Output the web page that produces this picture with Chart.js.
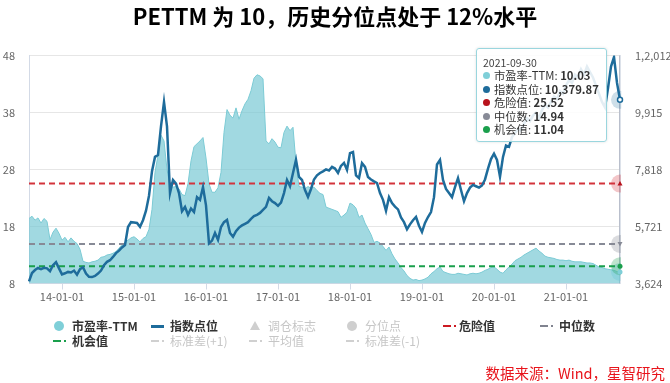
<!DOCTYPE html>
<html><head><meta charset="utf-8">
<script src="https://cdn.jsdelivr.net/npm/chart.js@4.4.1/dist/chart.umd.min.js"></script>
<style>
html,body{margin:0;padding:0;background:#fff;}
#wrap{position:relative;width:670px;height:383px;overflow:hidden;font-family:'Noto Sans CJK SC','Open Sans',sans-serif;}
#c{position:absolute;left:0;top:0;}
.lg{position:absolute;height:16px;line-height:16px;font-size:12px;white-space:nowrap;}
.lg .ic{position:absolute;top:50%;}
.lg .tx{position:absolute;top:0;}
#tt{position:absolute;background:rgba(255,255,255,0.88);border:1px solid #9ad6de;border-radius:3px;box-shadow:0 0 3px rgba(0,0,0,0.12);padding:8px 7px 4px 6px;font-size:11.3px;color:#333;pointer-events:none;white-space:nowrap;}
#tt .t{font-size:10.5px;line-height:12px;color:#444;margin-bottom:0px;}
#tt .r{line-height:13.5px;}
#tt .d{display:inline-block;width:7px;height:7px;border-radius:50%;margin-right:4px;vertical-align:1px;}
#src{position:absolute;right:5px;top:363px;font-size:14.5px;color:#e8141b;line-height:20px;}
</style></head>
<body>
<div id="wrap"><canvas id="c" width="670" height="383"></canvas><div id="src">数据来源：Wind，星智研究</div></div>
<script>
// ---------- data ----------
const titleText = 'PETTM 为 10，历史分位点处于 12%水平';
const peValues = [
19.4,19.8,19.1,19.5,18.6,19.4,18.9,15.7,17.0,17.7,16.8,15.6,16.1,15.3,16.0,15.4,15.0,14.0,11.9,11.7,
11.6,11.8,11.9,12.1,12.6,12.7,13.0,13.1,13.3,13.6,14.2,14.8,15.2,15.6,16.0,16.2,15.8,15.3,15.9,16.2,
17.5,21.0,27.5,30.5,34.0,33.0,28.0,25.0,24.9,25.0,24.6,23.6,23.4,25.5,29.5,32.0,32.5,33.0,33.6,30.0,
25.5,24.0,24.0,24.8,27.5,34.5,38.5,37.5,37.0,38.8,36.8,38.3,39.5,40.3,41.8,44.0,44.6,44.4,43.9,33.0,
32.5,33.4,32.8,31.9,31.8,34.5,35.6,34.8,35.4,29.0,25.0,24.9,24.6,25.0,24.7,24.9,24.3,23.8,23.6,21.4,
21.2,21.0,20.8,20.6,19.6,20.0,20.5,22.1,21.8,21.2,19.6,20.0,18.6,17.6,16.6,15.2,15.4,15.1,14.5,13.8,
14.4,13.2,12.3,11.6,10.8,10.2,9.4,8.9,8.6,8.7,8.5,8.6,8.8,9.1,9.7,10.1,10.6,10.9,10.1,9.9,
9.7,9.6,9.6,9.8,9.7,9.6,9.5,9.7,9.8,9.7,9.8,10.0,10.3,10.5,10.8,10.9,10.5,10.0,9.8,10.4,
10.9,11.4,12.0,12.3,12.6,13.0,13.3,13.6,13.9,14.2,13.7,13.3,12.8,12.6,12.5,12.4,12.2,12.1,12.1,12.0,
12.1,11.9,11.8,11.8,11.8,11.7,11.6,11.6,11.5,11.2,10.9,10.8,10.6,10.5,10.4,10.3,10.1,10.03];
const indexValues = [
3700,4010,4120,4195,4150,4200,4180,4080,4300,4410,4180,3960,4000,4050,4030,4100,3950,4150,4220,3990,
3870,3860,3900,3990,4100,4300,4420,4480,4600,4740,4830,4950,5040,5700,5880,5870,5850,5710,5950,6300,
6850,7750,8280,8350,9400,10300,9400,6950,7430,7300,6950,6280,6440,6150,6380,6250,6800,6700,7170,6500,
5100,5200,5480,5230,5700,5880,5960,5480,5340,5550,5680,5760,5820,5880,6000,6100,6150,6220,6330,6440,
6770,6650,6580,6480,6600,6950,7430,7200,7690,8170,7540,7430,7060,6810,7100,7450,7600,7690,7750,7820,
7780,7910,7850,7690,7950,8060,7800,8420,8460,7600,7500,8050,7910,7540,7450,7380,7320,6950,6700,6300,
6800,6580,6450,6350,6050,5880,5620,5800,5950,6070,5750,5520,5850,6070,6250,6800,8000,8170,7430,7100,
6950,6800,7170,7500,7060,6650,6950,7150,7250,7200,7150,7230,7450,7850,8200,8400,8170,7550,8280,8700,
8650,9010,9150,9300,9250,9500,9700,9600,9800,9900,9700,10000,10200,10100,10300,10500,10400,10700,10600,10900,
11100,11000,11300,11200,11500,11300,11600,11400,11200,10900,10600,10300,10100,10800,11600,11950,11000,10379.87];
const dangerValue = 25.52, medianValue = 14.94, opportunityValue = 11.04;
const leftTicks = {min: 8, max: 48, step: 10};
const rightTicks = {min: 3624, max: 12012, step: 2097};
const rightTickLabels = ['3,624', '5,721', '7,818', '9,915', '1,2,012'];
const firstDate = '2013-07-16', lastDate = '2021-09-30';
const legendNames = ['市盈率-TTM','指数点位','调仓标志','分位点','危险值','中位数','机会值','标准差(+1)','平均值','标准差(-1)'];

// ---------- categories: half-month dates ----------
const pad = n => (n < 10 ? '0' : '') + n;
const dates = [firstDate];
for (let y = 2013, m = 8; ; m++) {
  if (m > 12) { m = 1; y++; }
  if (y === 2021 && m > 9) break;
  dates.push(y + '-' + pad(m) + '-01');
  dates.push(y + '-' + pad(m) + '-16');
}
dates.push(lastDate);
const constLine = v => dates.map(() => v);

Chart.defaults.font.family = "'Noto Sans CJK SC','Open Sans',sans-serif";
Chart.defaults.color = '#666';

const fmt = v => v.toLocaleString('en-US', {minimumFractionDigits: 2, maximumFractionDigits: 2});

function externalTip(context) {
  const tt = context.tooltip;
  let el = document.getElementById('tt');
  if (!el) { el = document.createElement('div'); el.id = 'tt'; document.getElementById('wrap').appendChild(el); }
  if (tt.opacity === 0) { el.style.opacity = 0; return; }
  let html = '<div class="t">' + tt.title[0] + '</div>';
  tt.dataPoints.forEach(dp => {
    html += '<div class="r"><span class="d" style="background:' + dp.dataset.tipColor + '"></span>' +
      dp.dataset.label + ': <b>' + fmt(dp.raw) + '</b></div>';
  });
  el.innerHTML = html;
  el.style.opacity = 1;
  el.style.left = (tt.caretX - el.offsetWidth - 13) + 'px';
  el.style.top = '48px';
}

const hoverLine = {
  id: 'hoverLine',
  beforeDatasetsDraw(chart) {
    const act = chart.getActiveElements();
    if (!act.length) return;
    const x = act[0].element.x, a = chart.chartArea, ctx = chart.ctx;
    ctx.save(); ctx.strokeStyle = '#b9bfcc'; ctx.lineWidth = 1;
    ctx.beginPath(); ctx.moveTo(x - 0.5, a.top); ctx.lineTo(x - 0.5, a.bottom); ctx.stroke(); ctx.restore();
  },
  afterDatasetsDraw(chart) {
    const ctx = chart.ctx;
    chart.getActiveElements().forEach(a => {
      const ds = chart.data.datasets[a.datasetIndex];
      const {x, y} = a.element;
      ctx.save();
      ctx.fillStyle = ds.tipColor; ctx.strokeStyle = ds.tipColor;
      if (ds.marker === 'tri') {
        ctx.beginPath(); ctx.moveTo(x, y - 2.5); ctx.lineTo(x + 2.5, y + 2); ctx.lineTo(x - 2.5, y + 2); ctx.closePath(); ctx.fill();
      } else if (ds.marker === 'tridown') {
        ctx.beginPath(); ctx.moveTo(x, y + 2.5); ctx.lineTo(x + 2.5, y - 2); ctx.lineTo(x - 2.5, y - 2); ctx.closePath(); ctx.fill();
      } else if (ds.marker === 'ring') {
        ctx.fillStyle = '#fff'; ctx.lineWidth = 1.5;
        ctx.beginPath(); ctx.arc(x, y, 2.5, 0, Math.PI * 2); ctx.fill(); ctx.stroke();
      } else {
        ctx.beginPath(); ctx.arc(x, y, 2.5, 0, Math.PI * 2); ctx.fill();
      }
      ctx.restore();
    });
  }
};

const dashed = (label, values, color, halo, marker, order, tip) => ({
  type: 'line', label, data: values, yAxisID: 'y', borderColor: color, borderWidth: 2,
  borderDash: [6, 4], pointRadius: 0, pointHoverRadius: 9, pointHoverBackgroundColor: halo,
  pointHoverBorderWidth: 0, fill: false, tipColor: tip, marker, order
});

const chart = new Chart(document.getElementById('c'), {
  type: 'line',
  data: {
    labels: dates,
    datasets: [
      { label: legendNames[0], data: peValues, yAxisID: 'y', borderColor: '#7ccbd5', borderWidth: 1,
        backgroundColor: 'rgba(112,197,209,0.66)', fill: 'origin', pointRadius: 0, pointHoverRadius: 9,
        pointHoverBackgroundColor: 'rgba(120,205,215,0.45)', pointHoverBorderWidth: 0,
        tension: 0, tipColor: '#7fcfd8', marker: 'dot', order: 5 },
      { label: legendNames[1], data: indexValues, yAxisID: 'y1', borderColor: '#1e6c9b', borderWidth: 2.5,
        pointRadius: 0, pointHoverRadius: 9, pointHoverBackgroundColor: 'rgba(30,108,155,0.22)',
        pointHoverBorderWidth: 0, fill: false, tension: 0, tipColor: '#1e6c9b', marker: 'ring', order: 0 },
      dashed(legendNames[4], constLine(dangerValue), '#d3343c', 'rgba(211,52,60,0.28)', 'tri', 3, '#b8121c'),
      dashed(legendNames[5], constLine(medianValue), '#878a96', 'rgba(135,138,150,0.3)', 'tridown', 2, '#878a96'),
      dashed(legendNames[6], constLine(opportunityValue), '#1a9f4c', 'rgba(26,159,76,0.28)', 'dot', 1, '#1a9f4c')
    ]
  },
  options: {
    responsive: false, animation: false,
    layout: { padding: { left: 0, right: 0, top: 0, bottom: 79.5 } },
    interaction: { mode: 'index', intersect: false },
    plugins: {
      legend: { display: false },
      title: { display: true, text: titleText, color: '#000', font: { size: 22, weight: 'bold' },
               padding: { top: 3, bottom: 26 } },
      tooltip: { enabled: false, external: externalTip, itemSort: (a, b) => 0 }
    },
    scales: {
      x: {
        type: 'category',
        afterBuildTicks: s => { s.ticks = s.ticks.filter(t => dates[t.value].endsWith('-01-01')); },
        afterFit: s => { s.height = 20; },
        ticks: { autoSkip: false, maxRotation: 0, padding: 1, color: '#666', font: { size: 11 },
                 callback: function (v) { return dates[v].slice(2); } },
        grid: { drawOnChartArea: false, drawTicks: true, tickLength: 6, color: '#d3dae6' },
        border: { display: true, color: '#d3dae6' }
      },
      y: {
        position: 'left', min: leftTicks.min, max: leftTicks.max,
        afterFit: s => { s.width = 29; },
        ticks: { stepSize: leftTicks.step, padding: 14, color: '#666', font: { size: 11 } },
        grid: { color: '#e6e6e6', drawTicks: false },
        border: { display: true, color: '#d3dae6' }
      },
      y1: {
        position: 'right', min: rightTicks.min, max: rightTicks.max,
        afterFit: s => { s.width = 50; },
        ticks: { stepSize: rightTicks.step, padding: 15, color: '#666', font: { size: 11 },
                 callback: (v, i) => rightTickLabels[i] },
        grid: { display: false, drawTicks: false },
        border: { display: true, color: '#dde2ea' }
      }
    }
  },
  plugins: [hoverLine]
});

// activate last point (hover state + tooltip)
const last = dates.length - 1;
const act = [0, 1, 2, 3, 4].map(d => ({ datasetIndex: d, index: last }));
chart.setActiveElements(act);
chart.tooltip.setActiveElements(act, { x: chart.getDatasetMeta(0).data[last].x, y: 100 });
chart.update();

// ---------- legend (grid layout like the reference) ----------
const legendSpec = [
  { name: legendNames[0], icon: 'circle', color: '#7fcfd8', on: true, col: 0, row: 0 },
  { name: legendNames[1], icon: 'line', color: '#1e6c9b', on: true, col: 1, row: 0 },
  { name: legendNames[2], icon: 'tri', color: '#cfcfcf', on: false, col: 2, row: 0 },
  { name: legendNames[3], icon: 'circle', color: '#cfcfcf', on: false, col: 3, row: 0 },
  { name: legendNames[4], icon: 'dash', color: '#cc1a22', on: true, col: 4, row: 0 },
  { name: legendNames[5], icon: 'dash', color: '#80838f', on: true, col: 5, row: 0 },
  { name: legendNames[6], icon: 'dash', color: '#1a9f4c', on: true, col: 0, row: 1 },
  { name: legendNames[7], icon: 'dash', color: '#d0d0d0', on: false, col: 1, row: 1 },
  { name: legendNames[8], icon: 'dash', color: '#d0d0d0', on: false, col: 2, row: 1 },
  { name: legendNames[9], icon: 'dash', color: '#d0d0d0', on: false, col: 3, row: 1 }
];
const colX = [53, 151, 249, 346, 443, 540];
const rowY = [318, 333];
const wrap = document.getElementById('wrap');
legendSpec.forEach(it => {
  const d = document.createElement('div');
  d.className = 'lg';
  d.style.left = colX[it.col] + 'px';
  d.style.top = rowY[it.row] + 'px';
  let icon = '';
  if (it.icon === 'circle') icon = '<span class="ic" style="left:1px;margin-top:-5px;width:10px;height:10px;border-radius:50%;background:' + it.color + '"></span>';
  else if (it.icon === 'line') icon = '<span class="ic" style="left:0;margin-top:-1px;width:13px;height:2.5px;background:' + it.color + '"></span>';
  else if (it.icon === 'tri') icon = '<span class="ic" style="left:1px;margin-top:-5px;width:0;height:0;border-left:5px solid transparent;border-right:5px solid transparent;border-bottom:9px solid ' + it.color + '"></span>';
  else icon = '<span class="ic" style="left:0;margin-top:-1px;width:8px;height:2px;background:' + it.color + '"></span>' +
              '<span class="ic" style="left:11px;margin-top:-1px;width:2px;height:2px;background:' + it.color + '"></span>';
  d.innerHTML = icon + '<span class="tx" style="left:' + (it.col === 4 ? 16 : 19) + 'px;color:' + (it.on ? '#333' : '#c6c6c6') +
    ';font-weight:' + (it.on ? 'bold' : 'normal') + '">' + it.name + '</span>';
  wrap.appendChild(d);
});
</script>
</body></html>
